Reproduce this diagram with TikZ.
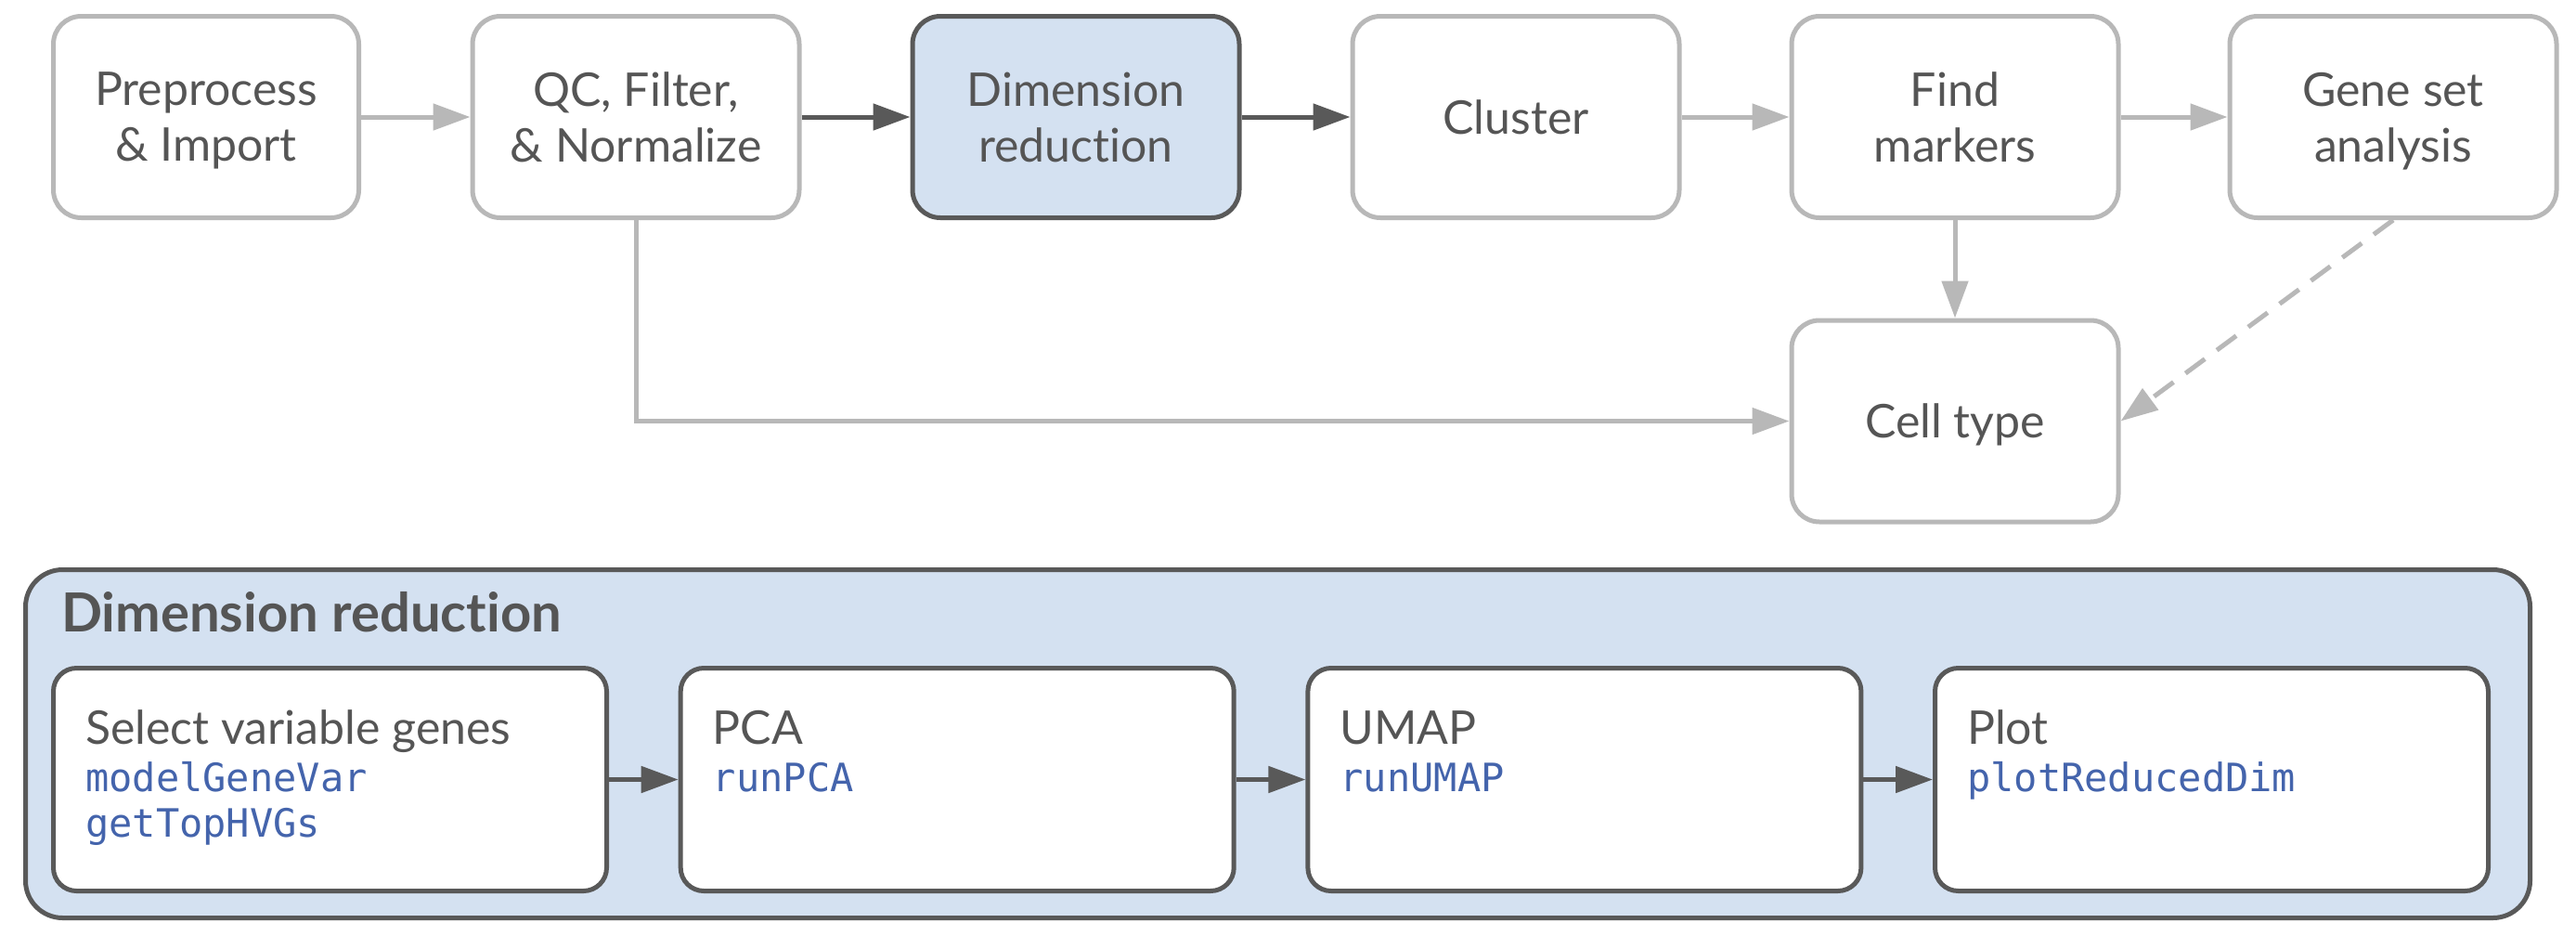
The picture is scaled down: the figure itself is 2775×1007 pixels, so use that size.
\documentclass[tikz,border=0pt]{standalone}
\usepackage{fontspec}
\setmainfont{Lato}[Ligatures=NoCommon]
\setmonofont{DejaVu Sans Mono}
\usetikzlibrary{arrows.meta}
\definecolor{cLight}{HTML}{B8B8B8}
\definecolor{cDark}{HTML}{595959}
\definecolor{cFill}{HTML}{D4E1F1}
\definecolor{cText}{HTML}{555555}
\definecolor{cCode}{HTML}{4464AC}
\newcommand{\nodepth}[1]{\raisebox{0pt}[\height][0pt]{#1}}
\begin{document}
\begin{tikzpicture}[x=1pt,y=-1pt,
  topbox/.style={draw=cLight, line width=5pt, rounded corners=30pt, fill=white,
    minimum width=352pt, minimum height=217pt, align=center, text=cText,
    font=\fontsize{50}{60}\selectfont, inner sep=0pt},
  darkbox/.style={topbox, draw=cDark, fill=cFill},
  lightarrow/.style={draw=cLight, line width=5pt, -{Triangle[length=40pt,width=28pt]}},
  darkarrow/.style={lightarrow, draw=cDark},
  container/.style={draw=cDark, line width=5pt, rounded corners=40pt, fill=cFill,
    minimum width=2698pt, minimum height=375pt, inner sep=0pt},
  innerbox/.style={draw=cDark, line width=5pt, rounded corners=25pt, fill=white,
    minimum width=596pt, minimum height=240pt, inner sep=0pt},
  steptitle/.style={anchor=base west, text=cText, inner sep=0pt,
    font=\fontsize{50}{55}\selectfont},
  codetext/.style={anchor=base west, text=cCode, inner sep=0pt,
    font=\ttfamily\fontsize{42}{49}\selectfont},
]
\useasboundingbox (0,0) rectangle (2775,1007);

% top row
\node[topbox, minimum width=329pt] (pre) at (222,126) {\nodepth{Preprocess}\\\nodepth{\& Import}};
\node[topbox] (qc) at (685,126) {\nodepth{QC, Filter,}\\\& Normalize};
\node[darkbox] (dim) at (1159,126) {Dimension\\reduction};
\node[topbox] (clu) at (1633,126) {Cluster};
\node[topbox] (fm) at (2106,126) {Find\\markers};
\node[topbox] (gsa) at (2578,126) {Gene set\\\nodepth{analysis}};
\node[topbox] (cell) at (2106,453.5) {\nodepth{Cell type}};

\draw[lightarrow] (pre) -- (qc);
\draw[darkarrow] (qc) -- (dim);
\draw[darkarrow] (dim) -- (clu);
\draw[lightarrow] (clu) -- (fm);
\draw[lightarrow] (fm) -- (gsa);
\draw[lightarrow] (fm) -- (cell);
\draw[lightarrow] (qc.south) |- (cell.west);
\draw[lightarrow, dash pattern=on 26pt off 16pt] (gsa.south) -- (cell.east);

% bottom panel
\node[container] (panel) at (1376.5,801) {};
\node[anchor=base west, text=cText, inner sep=0pt,
  font=\bfseries\fontsize{58}{62}\selectfont] (ptitle) at (66,680) {Dimension reduction};

\node[innerbox] (sel) at (355.5,839.5) {};
\node[innerbox] (pca) at (1031.2,839.5) {};
\node[innerbox] (umap) at (1706.9,839.5) {};
\node[innerbox] (plot) at (2382.5,839.5) {};

\draw[darkarrow] (sel) -- (pca);
\draw[darkarrow] (pca) -- (umap);
\draw[darkarrow] (umap) -- (plot);

\node[steptitle] (selT) at ([xshift=37pt,yshift=-84pt]sel.north west) {Select variable genes};
\node[codetext] (selC1) at ([yshift=-51pt]selT.base west) {modelGeneVar};
\node[codetext] (selC2) at ([yshift=-100pt]selT.base west) {getTopHVGs};

\node[steptitle] (pcaT) at ([xshift=37pt,yshift=-84pt]pca.north west) {PCA};
\node[codetext] (pcaC) at ([yshift=-51pt]pcaT.base west) {runPCA};

\node[steptitle] (umapT) at ([xshift=37pt,yshift=-84pt]umap.north west) {UMAP};
\node[codetext] (umapC) at ([yshift=-51pt]umapT.base west) {runUMAP};

\node[steptitle] (plotT) at ([xshift=37pt,yshift=-84pt]plot.north west) {Plot};
\node[codetext] (plotC) at ([yshift=-51pt]plotT.base west) {plotReducedDim};
\end{tikzpicture}
\end{document}
